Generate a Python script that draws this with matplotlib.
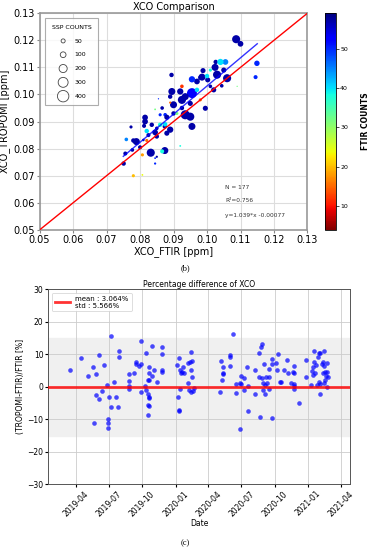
import numpy as np
import pandas as pd
import matplotlib
matplotlib.use("Agg")
import matplotlib.pyplot as plt
import matplotlib.dates as mdates

plt.rcParams.update({
    "font.family": "DejaVu Sans",
    "font.size": 7,
})

# ── Panel (b): XCO comparison ────────────────────────────────────────────────
xco_ftir = [0.1087, 0.1100, 0.1149, 0.1145, 0.1090, 0.1060, 0.1050, 0.1055, 0.1024, 0.1030,
            0.1044, 0.1020, 0.1002, 0.1010, 0.0988, 0.0985, 0.0970, 0.1000, 0.0955, 0.0955,
            0.0925, 0.0920, 0.0895, 0.0890, 0.0900, 0.0925, 0.0935, 0.0950, 0.0980, 0.0995,
            0.0970, 0.0894, 0.0935, 0.0950, 0.0955, 0.0925, 0.0900, 0.0875, 0.0880, 0.0866,
            0.0860, 0.0874, 0.0890, 0.0880, 0.0850, 0.0845, 0.0875, 0.0860, 0.0850, 0.0874,
            0.0866, 0.0835, 0.0815, 0.0812, 0.0820, 0.0825, 0.0815, 0.0810, 0.0820, 0.0789,
            0.0780, 0.0759, 0.0777, 0.0756, 0.0751, 0.0773, 0.0800, 0.0807, 0.0832, 0.0845,
            0.0850, 0.0780, 0.0807, 0.0855, 0.0890, 0.0920, 0.0910, 0.0845, 0.0845, 0.0980,
            0.1010, 0.1026, 0.1040]
xco_tropomi = [0.1204, 0.1187, 0.1115, 0.1064, 0.1030, 0.1060, 0.1090, 0.1120, 0.1100, 0.1073,
               0.1032, 0.1017, 0.1054, 0.1030, 0.1088, 0.1064, 0.1048, 0.1068, 0.1056, 0.1005,
               0.1030, 0.1011, 0.1011, 0.0992, 0.0962, 0.0980, 0.0992, 0.0967, 0.0980, 0.0949,
               0.1017, 0.1072, 0.0925, 0.0918, 0.0882, 0.0950, 0.0930, 0.0925, 0.0916, 0.0950,
               0.0925, 0.0882, 0.0870, 0.0857, 0.0875, 0.0860, 0.0890, 0.0888, 0.0845, 0.0793,
               0.0790, 0.0888, 0.0900, 0.0884, 0.0865, 0.0850, 0.0915, 0.0832, 0.0830, 0.0826,
               0.0830, 0.0834, 0.0795, 0.0782, 0.0745, 0.0880, 0.0805, 0.0777, 0.0785, 0.0745,
               0.0770, 0.0700, 0.0703, 0.0984, 0.0970, 0.0810, 0.0930, 0.0945, 0.0765, 0.1062,
               0.1090, 0.1120, 0.1120]
ssp_counts = [200, 100, 90, 50, 5, 200, 80, 100, 150, 200,
              40, 80, 80, 40, 80, 150, 100, 60, 120, 300,
              40, 120, 150, 60, 150, 200, 150, 80, 30, 80,
              60, 60, 250, 200, 150, 60, 60, 40, 80, 40,
              30, 60, 120, 80, 40, 100, 60, 60, 60, 150,
              50, 60, 100, 50, 60, 50, 100, 20, 30, 150,
              60, 40, 40, 50, 60, 30, 50, 30, 200, 15,
              15, 30, 10, 5, 15, 10, 30, 10, 10, 60,
              30, 60, 120]
ftir_counts = [57, 57, 50, 50, 32, 57, 57, 45, 57, 57,
               57, 57, 57, 57, 57, 57, 57, 40, 50, 52,
               12, 57, 57, 57, 57, 57, 57, 57, 15, 57,
               40, 57, 57, 57, 57, 57, 57, 50, 57, 57,
               50, 57, 57, 57, 57, 57, 40, 38, 57, 57,
               38, 57, 57, 57, 40, 57, 57, 57, 15, 57,
               57, 45, 57, 57, 57, 57, 57, 18, 57, 50,
               57, 20, 24, 50, 15, 38, 32, 32, 50, 57,
               38, 57, 40]

legend_sizes = [50, 100, 200, 300, 400]
fit_slope, fit_icpt = 1.039, -0.00077
fit_range = [0.075, 0.115]

# ── Panel (c): percentage difference ────────────────────────────────────────
dates = [
    "2019-03-16", "2019-04-15", "2019-05-05", "2019-05-19", "2019-05-26", "2019-05-21", "2019-05-26",
    "2019-06-05", "2019-06-05", "2019-06-13", "2019-06-18", "2019-06-25", "2019-07-06", "2019-07-01",
    "2019-06-30", "2019-06-30", "2019-06-30", "2019-07-07", "2019-07-16", "2019-07-20", "2019-07-27",
    "2019-07-29", "2019-07-29", "2019-08-25", "2019-08-25", "2019-08-25", "2019-08-25", "2019-09-08",
    "2019-09-15", "2019-09-15", "2019-09-21", "2019-09-29", "2019-09-28", "2019-09-29", "2019-10-10",
    "2019-10-12", "2019-10-12", "2019-10-16", "2019-10-16", "2019-10-20", "2019-10-20", "2019-10-20",
    "2019-10-21", "2019-10-20", "2019-10-18", "2019-10-21", "2019-10-18", "2019-10-27", "2019-10-27",
    "2019-11-03", "2019-11-10", "2019-11-25", "2019-11-25", "2019-11-25", "2019-11-25",
    "2020-01-06", "2020-01-09", "2020-01-12", "2020-01-10", "2020-01-12", "2020-01-13", "2020-01-14",
    "2020-01-21", "2020-01-20", "2020-01-24", "2020-01-16", "2020-02-04", "2020-02-05", "2020-02-09",
    "2020-02-13", "2020-02-14", "2020-02-15", "2020-02-06", "2020-02-13", "2020-02-18", "2020-02-20",
    "2020-02-16",
    "2020-05-03", "2020-05-06", "2020-05-11", "2020-05-11", "2020-05-11", "2020-05-07", "2020-05-31",
    "2020-05-31", "2020-05-31", "2020-06-07", "2020-06-16", "2020-06-16", "2020-06-27", "2020-06-29",
    "2020-06-30", "2020-07-08", "2020-07-08", "2020-07-15", "2020-07-20", "2020-07-20", "2020-06-27",
    "2020-08-08", "2020-08-08", "2020-08-17", "2020-08-23", "2020-08-28", "2020-08-21", "2020-08-19",
    "2020-08-26", "2020-09-01", "2020-08-29", "2020-09-03", "2020-08-30", "2020-09-05", "2020-09-08",
    "2020-09-10", "2020-09-14", "2020-09-14", "2020-09-14", "2020-09-23", "2020-09-23", "2020-09-23",
    "2020-10-05", "2020-10-07", "2020-10-11", "2020-10-14", "2020-10-18", "2020-10-26", "2020-11-04",
    "2020-11-06", "2020-11-15", "2020-11-20", "2020-11-22", "2020-11-24", "2020-11-24", "2020-11-24",
    "2020-11-24", "2020-12-06", "2020-12-27", "2020-12-27", "2021-01-09", "2021-01-11", "2021-01-15",
    "2021-01-17", "2021-01-15", "2021-01-17", "2021-01-19", "2021-01-23", "2021-01-26", "2021-01-28",
    "2021-01-30", "2021-02-02", "2021-02-02", "2021-02-01", "2021-02-04", "2021-02-08", "2021-02-10",
    "2021-02-10", "2021-02-13", "2021-02-15", "2021-02-15", "2021-02-17", "2021-02-18", "2021-02-22",
    "2021-02-22", "2021-02-21", "2021-02-24", "2021-02-17",
]
pct_diff = [
    5.1, 8.8, 3.2, 6.0, 3.8, -11.2, -2.4,
    9.8, -3.8, -1.3, 6.6, 0.5, 15.6, -3.2,
    -10.0, -11.2, -12.8, -6.1, 1.4, -3.2, -6.1,
    10.9, 9.3, 3.9, 1.8, 0.1, -0.8, 4.4,
    7.6, 6.9, 6.5, 7.0, 14.2, -1.5, 0.1,
    10.3, -1.0, -2.3, 2.1, 6.0, -3.0, -3.5,
    2.1, 4.1, -5.6, -5.9, -8.8, 12.6, 3.3,
    5.2, 1.6, 12.1, 10.1, 5.2, 4.6,
    6.7, -3.0, -7.2, -7.4, 8.8, -0.8, 5.2,
    6.2, 4.6, 4.3, 4.1, 1.3, 7.2, 7.7,
    10.8, 5.2, 3.1, -1.0, -1.5, -1.2, -0.5,
    8.0,
    -1.5, 8.0, 6.0, 4.3, 3.9, 2.1, 9.8,
    9.1, 6.4, 16.1, 0.9, -2.0, 1.1, 3.4,
    0.9, 2.8, -1.0, 6.2, -7.3, 0.1, -13.0,
    5.2, -2.3, 10.3, 12.3, 13.2, -9.4, 3.1,
    2.6, 7.0, 1.1, 0.5, -1.0, -2.2, 2.9,
    1.1, 5.4, 3.1, -0.7, 8.5, 7.0, -9.6,
    7.2, 5.2, 10.1, 1.6, 1.6, 5.2, 8.4,
    4.1, 1.1, 4.6, 4.3, 6.4, 0.8, -0.8,
    0.1, -5.1, 8.2, 2.9, 0.5, 5.0, 6.0,
    10.9, 3.6, 7.7, 4.1, 6.7, 0.5, 9.3,
    10.3, 10.5, -2.2, 1.6, 0.9, 7.0, 7.7,
    4.1, 6.4, 11.0, 1.1, 4.6, 3.3, 7.2,
    4.6, -0.2, 3.1, 2.1,
]
mean_pct, std_pct = 3.064, 5.566
band = 15

SIZE_K = 0.17  # marker area (pt^2) per SSP count

fig = plt.figure(figsize=(3.7, 5.5), dpi=100)

# ══════════════════════════════════════════════════════════════════════════════
# (b) scatter
# ══════════════════════════════════════════════════════════════════════════════
ax1 = fig.add_axes([0.107, 0.582, 0.724, 0.394])
sc = ax1.scatter(xco_ftir, xco_tropomi, s=np.array(ssp_counts) * SIZE_K,
                 c=ftir_counts, cmap="jet_r", vmin=4, vmax=59, linewidths=0, zorder=3)
ax1.plot([0.05, 0.13], [0.05, 0.13], color="red", lw=1, zorder=4)
fx = np.array(fit_range)
ax1.plot(fx, fit_slope * fx + fit_icpt, color="blue", lw=1, alpha=0.8, zorder=4)

ax1.set_xlim(0.05, 0.13)
ax1.set_ylim(0.05, 0.13)
ax1.set_xticks(np.arange(0.05, 0.131, 0.01))
ax1.set_yticks(np.arange(0.05, 0.131, 0.01))
ax1.xaxis.set_major_formatter(matplotlib.ticker.FormatStrFormatter("%.2f"))
ax1.yaxis.set_major_formatter(matplotlib.ticker.FormatStrFormatter("%.2f"))
ax1.tick_params(labelsize=7, length=2, color="#888888", pad=1.5)
ax1.grid(True, color="#dddddd", lw=0.8, zorder=0)
for sp in ax1.spines.values():
    sp.set_color("#999999")
    sp.set_linewidth(1.2)
ax1.set_xlabel("XCO_FTIR [ppm]", fontsize=7, labelpad=1)
ax1.set_ylabel("XCO_TROPOMI [ppm]", fontsize=7, labelpad=2)
ax1.set_title("XCO Comparison", fontsize=7, pad=2)

handles = [ax1.scatter([], [], s=v * SIZE_K, facecolors="none",
                       edgecolors="#444444", linewidths=0.6, label=str(v))
           for v in legend_sizes]
leg = ax1.legend(handles=handles, title="SSP COUNTS", loc="upper left",
                 fontsize=4.5, title_fontsize=4.5, labelspacing=1.35,
                 borderpad=1.0, handletextpad=0.8, fancybox=False,
                 bbox_to_anchor=(0.01, 0.99))
leg.get_frame().set_edgecolor("#999999")
leg.get_frame().set_linewidth(0.8)

ax1.text(0.1055, 0.0656, "N = 177", fontsize=4.2, color="#333333", va="center")
ax1.text(0.1055, 0.0607, "R\u00b2=0.756", fontsize=4.2, color="#333333", va="center")
ax1.text(0.1055, 0.0555, f"y={fit_slope}*x {fit_icpt:.5f}", fontsize=4.2,
         color="#333333", va="center")

cax = fig.add_axes([0.878, 0.582, 0.030, 0.394])
cb = fig.colorbar(sc, cax=cax)
cb.set_ticks([10, 20, 30, 40, 50])
cb.ax.tick_params(labelsize=4.5, length=2, width=0.5, pad=1)
cb.outline.set_linewidth(0.6)
cb.set_label("FTIR COUNTS", fontsize=5.5, fontweight="bold", labelpad=9)

fig.text(0.5, 0.513, "(b)", ha="center", va="center", fontsize=6,
         family="Liberation Serif")

# ══════════════════════════════════════════════════════════════════════════════
# (c) percentage difference
# ══════════════════════════════════════════════════════════════════════════════
ax2 = fig.add_axes([0.1305, 0.1194, 0.815, 0.3546])
d = pd.to_datetime(dates)
ax2.axhspan(-band, band, color="#f0f0f0", zorder=0)
ax2.scatter(d, pct_diff, s=11, color="blue", alpha=0.7, linewidths=0, zorder=3)
ax2.axhline(0, color="red", lw=2, alpha=0.8, zorder=4,
            label=f"mean : {mean_pct:.3f}%\nstd : {std_pct:.3f}%")

ax2.set_xlim(pd.Timestamp("2019-01-15"), pd.Timestamp("2021-04-26"))
ax2.set_ylim(-30, 30)
ax2.set_yticks(range(-30, 31, 10))
ax2.xaxis.set_major_locator(mdates.MonthLocator(bymonth=[1, 4, 7, 10]))
ax2.xaxis.set_major_formatter(mdates.DateFormatter("%Y-%m"))
plt.setp(ax2.get_xticklabels(), rotation=45)
ax2.tick_params(labelsize=5.5, length=2, pad=1.5)
ax2.grid(True, color="#cccccc", lw=0.6, zorder=1)
ax2.set_axisbelow(True)
for sp in ax2.spines.values():
    sp.set_color("#555555")
    sp.set_linewidth(0.7)
ax2.set_xlabel("Date", fontsize=5.5, labelpad=1)
ax2.set_ylabel("(TROPOMI-FTIR)/FTIR [%]", fontsize=5.5, labelpad=2)
ax2.set_title("Percentage difference of XCO", fontsize=5.5, pad=1)
leg2 = ax2.legend(loc="upper left", fontsize=5, handlelength=2.2,
                  borderpad=0.4, fancybox=True, framealpha=0.9)
leg2.get_frame().set_linewidth(0.5)

fig.text(0.5, 0.013, "(c)", ha="center", va="center", fontsize=6,
         family="Liberation Serif")

fig.savefig("out.png", dpi=100)
